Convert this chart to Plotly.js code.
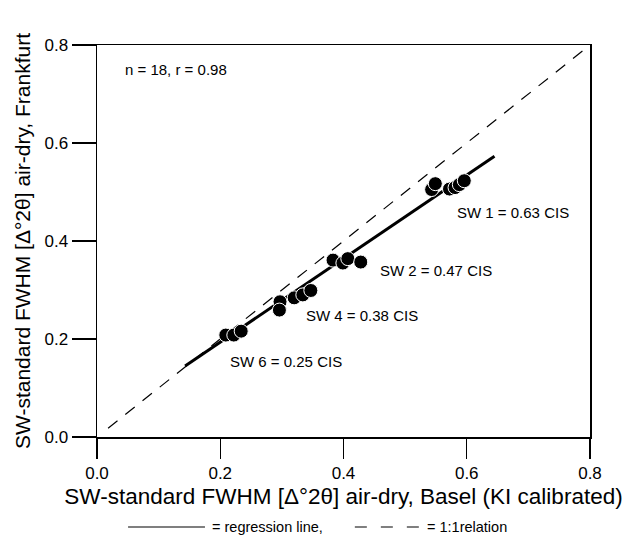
<!DOCTYPE html>
<html>
<head>
<meta charset="utf-8">
<script src="https://cdn.plot.ly/plotly-3.0.1.min.js"></script>
<style>html,body{margin:0;padding:0;background:#fff;}#chart{width:630px;height:543px;}</style>
</head>
<body>
<div id="chart"></div>
<script>
// Data
const baselX = [0.209, 0.222, 0.234,
                0.297, 0.296, 0.320, 0.334, 0.347,
                0.383, 0.399, 0.407, 0.428,
                0.543, 0.549, 0.572, 0.581, 0.588, 0.596];
const frankfurtY = [0.208, 0.208, 0.216,
                    0.276, 0.259, 0.284, 0.290, 0.299,
                    0.361, 0.355, 0.364, 0.357,
                    0.505, 0.517, 0.506, 0.509, 0.515, 0.523];
const regX = [0.143, 0.645];
const regY = [0.145, 0.573];
const oneX = [0.018, 0.8];
const oneY = [0.018, 0.8];
const tickVals = [0, 0.2, 0.4, 0.6, 0.8];
const tickText = ['0.0', '0.2', '0.4', '0.6', '0.8'];
const labelText = ['SW 1 = 0.63 CIS', 'SW 2 = 0.47 CIS', 'SW 4 = 0.38 CIS', 'SW 6 = 0.25 CIS'];
const labelX = [0.581, 0.456, 0.336, 0.2126];
const labelY = [0.459, 0.339, 0.247, 0.155];

const font = 'Liberation Sans, Arial, sans-serif';

const traces = [
  {x: oneX, y: oneY, mode: 'lines', line: {color: '#000', width: 1.2, dash: '12px,10px'}, hoverinfo: 'skip'},
  {x: regX, y: regY, mode: 'lines', line: {color: '#000', width: 3}, hoverinfo: 'skip'},
  {x: baselX, y: frankfurtY, mode: 'markers', marker: {color: '#000', size: 14, line: {color: '#fff', width: 1}}}
];

const annotations = labelText.map((t, i) => ({
  x: labelX[i], y: labelY[i], xref: 'x', yref: 'y', text: t, showarrow: false,
  xanchor: 'left', yanchor: 'middle', font: {family: font, size: 15, color: '#000'}
}));
annotations.push({x: 0.042, y: 0.75, xref: 'x', yref: 'y', text: 'n = 18, r = 0.98', showarrow: false,
  xanchor: 'left', yanchor: 'middle', font: {family: font, size: 15, color: '#000'}});
annotations.push({x: 0.229, y: -0.2296, xref: 'paper', yref: 'paper', text: '= regression line,', showarrow: false,
  xanchor: 'left', yanchor: 'middle', font: {family: font, size: 14.5, color: '#000'}});
annotations.push({x: 0.665, y: -0.2296, xref: 'paper', yref: 'paper', text: '= 1:1relation', showarrow: false,
  xanchor: 'left', yanchor: 'middle', font: {family: font, size: 14.5, color: '#000'}});

const shapes = [
  {type: 'line', xref: 'paper', yref: 'paper', x0: 0.063, x1: 0.219, y0: -0.2296, y1: -0.2296, line: {color: '#000', width: 1.2}},
  {type: 'line', xref: 'paper', yref: 'paper', x0: 0.523, x1: 0.655, y0: -0.2296, y1: -0.2296, line: {color: '#000', width: 1.2, dash: '12px,14px'}}
];

const layout = {
  width: 630, height: 543,
  margin: {l: 97, r: 40, t: 45, b: 106},
  paper_bgcolor: '#fff', plot_bgcolor: '#fff',
  showlegend: false,
  font: {family: font, color: '#000'},
  xaxis: {
    range: [0, 0.8], tickvals: tickVals, ticktext: tickText,
    ticks: 'outside', ticklen: 20, tickwidth: 1.2, tickcolor: '#000',
    showline: true, linecolor: '#000', linewidth: 1.5, mirror: true,
    showgrid: false, zeroline: false,
    tickfont: {family: font, size: 17, color: '#000'},
    title: {text: 'SW-standard FWHM [Δ°2θ] air-dry, Basel (KI calibrated)', font: {family: font, size: 22.5, color: '#000'}, standoff: 6}
  },
  yaxis: {
    range: [0, 0.8], tickvals: tickVals, ticktext: tickText,
    ticks: 'outside', ticklen: 24, tickwidth: 1.2, tickcolor: '#000',
    showline: true, linecolor: '#000', linewidth: 1.5, mirror: true,
    showgrid: false, zeroline: false,
    tickfont: {family: font, size: 17, color: '#000'},
    title: {text: 'SW-standard FWHM [Δ°2θ] air-dry, Frankfurt', font: {family: font, size: 21, color: '#000'}, standoff: 8}
  },
  annotations: annotations,
  shapes: shapes
};

Plotly.newPlot('chart', traces, layout, {displayModeBar: false, staticPlot: true});
</script>
</body>
</html>
